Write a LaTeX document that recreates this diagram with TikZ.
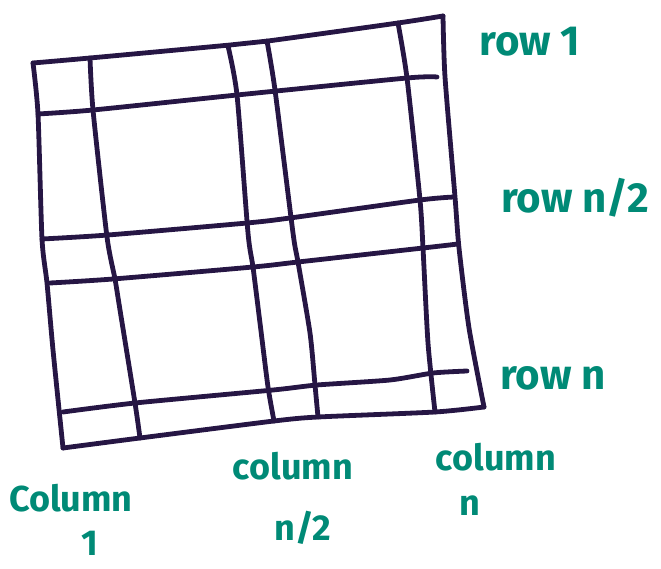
\documentclass[tikz,border=0pt]{standalone}
\usepackage{fontspec}
\setmainfont{Fira Sans}
\definecolor{gridink}{RGB}{38,22,68}
\definecolor{labelteal}{RGB}{0,138,118}

\begin{document}
\begin{tikzpicture}[x=1pt,y=-1pt,
  ink/.style={line width=4.8pt,gridink,line cap=round,line join=round},
  lbl/.style={labelteal,inner sep=0pt,font=\fontsize{36}{40}\selectfont\bfseries},
  rowlbl/.style={lbl,font=\fontsize{42}{46}\selectfont\bfseries}]
  \useasboundingbox (0,0) rectangle (661,569);
  % outer frame
  \draw[ink] plot[smooth,tension=0.4] coordinates {(33,63) (90,58) (230,45) (268,41) (398,23) (443,16)};
  \draw[ink] plot[smooth,tension=0.4] coordinates {(443,16) (445,77) (455,197) (459,248) (469,328) (484,407)};
  \draw[ink] plot[smooth,tension=0.4] coordinates {(484,407) (435,412) (318,417) (274,421) (140,438) (63,448)};
  \draw[ink] plot[smooth,tension=0.4] coordinates {(63,448) (53,350) (47,283) (42,239) (38,114) (33,63)};
  % rows
  \draw[ink] plot[smooth,tension=0.4] coordinates {(38,114) (93,110) (237,95) (407,78) (437,77)};
  \draw[ink] plot[smooth,tension=0.4] coordinates {(42,239) (108,235) (247,223) (290,218) (420,200) (454,197)};
  \draw[ink] plot[smooth,tension=0.4] coordinates {(50,283) (113,279) (253,267) (298,262) (423,248) (458,244)};
  \draw[ink] plot[smooth,tension=0.4] coordinates {(63,412) (135,403) (273,390) (317,385) (390,380) (433,373) (467,371)};
  % columns
  \draw[ink] plot[smooth,tension=0.4] coordinates {(90,58) (93,110) (107,237) (115,279) (120,310) (135,403) (140,438)};
  \draw[ink] plot[smooth,tension=0.4] coordinates {(228,46) (237,95) (248,233) (253,267) (260,323) (268,387) (274,421)};
  \draw[ink] plot[smooth,tension=0.4] coordinates {(267,41) (275,90) (293,233) (298,262) (310,333) (315,385) (318,417)};
  \draw[ink] plot[smooth,tension=0.4] coordinates {(398,23) (407,78) (420,200) (423,248) (428,343) (435,412)};
  % labels
  \node[rowlbl] (rowone) at (530,42) {row 1};
  \node[rowlbl] (rowhalf) at (575,198) {row n/2};
  \node[rowlbl] (rown) at (553,378) {row n};
  \node[lbl] (colone) at (71,498) {Column};
  \node[lbl] (colonenum) at (90,543) {1};
  \node[lbl] (colhalf) at (293,466) {column};
  \node[lbl] (colhalfnum) at (303,528) {n/2};
  \node[lbl] (coln) at (496,457) {column};
  \node[lbl] (colnnum) at (470,506) {n};
\end{tikzpicture}
\end{document}
